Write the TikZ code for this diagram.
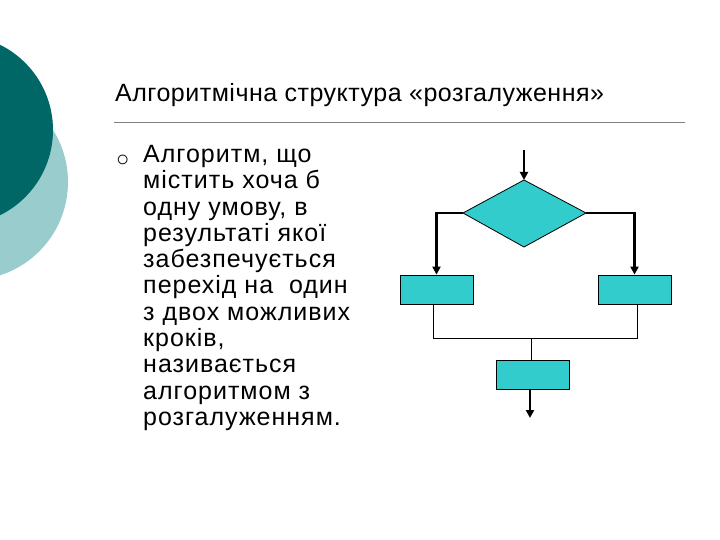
\documentclass[tikz,border=0pt]{standalone}
\usepackage{fontspec}
\setmainfont{Liberation Sans}
\usetikzlibrary{arrows.meta}
\definecolor{dteal}{RGB}{0,102,102}
\definecolor{lteal}{RGB}{153,204,204}
\definecolor{boxc}{RGB}{51,204,204}
\begin{document}
\begin{tikzpicture}[x=1pt,y=-1pt,
  blk/.style={draw=black,fill=boxc,line width=0.8pt},
  arr/.style={line width=2.2pt,-{Triangle[length=8pt,width=8pt]}},
  thinline/.style={line width=0.5pt}]
\useasboundingbox (0,0) rectangle (720,540);
\fill[lteal] (-30,182) circle (98);
\fill[dteal] (-42,130) circle (95);
\node[anchor=base west,inner sep=0pt,font=\fontsize{25}{28}\selectfont\addfontfeature{LetterSpace=2}] (title) at (115,102) {Алгоритмічна структура «розгалуження»};
\draw[gray,line width=0.6pt] (114,122) -- (685,122);
\node[anchor=base west,inner sep=0pt,font=\fontsize{22}{22}\selectfont] (bul) at (116,167) {○};
\node[anchor=north west,align=left,inner sep=0pt,font=\fontsize{25}{26.3}\selectfont\addfontfeature{LetterSpace=4}] (txt) at (143,145)
{Алгоритм, що\\ містить хоча б\\ одну умову, в\\ результаті якої\\ забезпечується\\ перехід на~ один\\ з двох можливих\\ кроків,\\ називається\\ алгоритмом з\\ розгалуженням.};
\coordinate (top) at (524,150);
\path[blk] (524,180) -- (586,213) -- (524,247) -- (463,213) -- cycle;
\coordinate (dt) at (524,180);
\coordinate (dl) at (463,213);
\coordinate (dr) at (586,213);
\node[blk,minimum width=73pt,minimum height=29pt,inner sep=0pt] (lb) at (436.5,289.5) {};
\node[blk,minimum width=73pt,minimum height=29pt,inner sep=0pt] (rb) at (634.5,289.5) {};
\node[blk,minimum width=73pt,minimum height=29pt,inner sep=0pt] (bb) at (532.5,374.5) {};
\coordinate (out) at (530,418);
\draw[arr] (top) -- (dt);
\draw[arr] (dl) -| (lb.north);
\draw[arr] (dr) -| (rb.north);
\draw[thinline] (lb.south -| 433,0) |- (531,338);
\draw[thinline] (rb.south -| 637,0) |- (531,338);
\draw[thinline] (531,338) -- (bb.north -| 531,0);
\draw[arr] (bb.south -| 530,0) -- (out);
\end{tikzpicture}
\end{document}
